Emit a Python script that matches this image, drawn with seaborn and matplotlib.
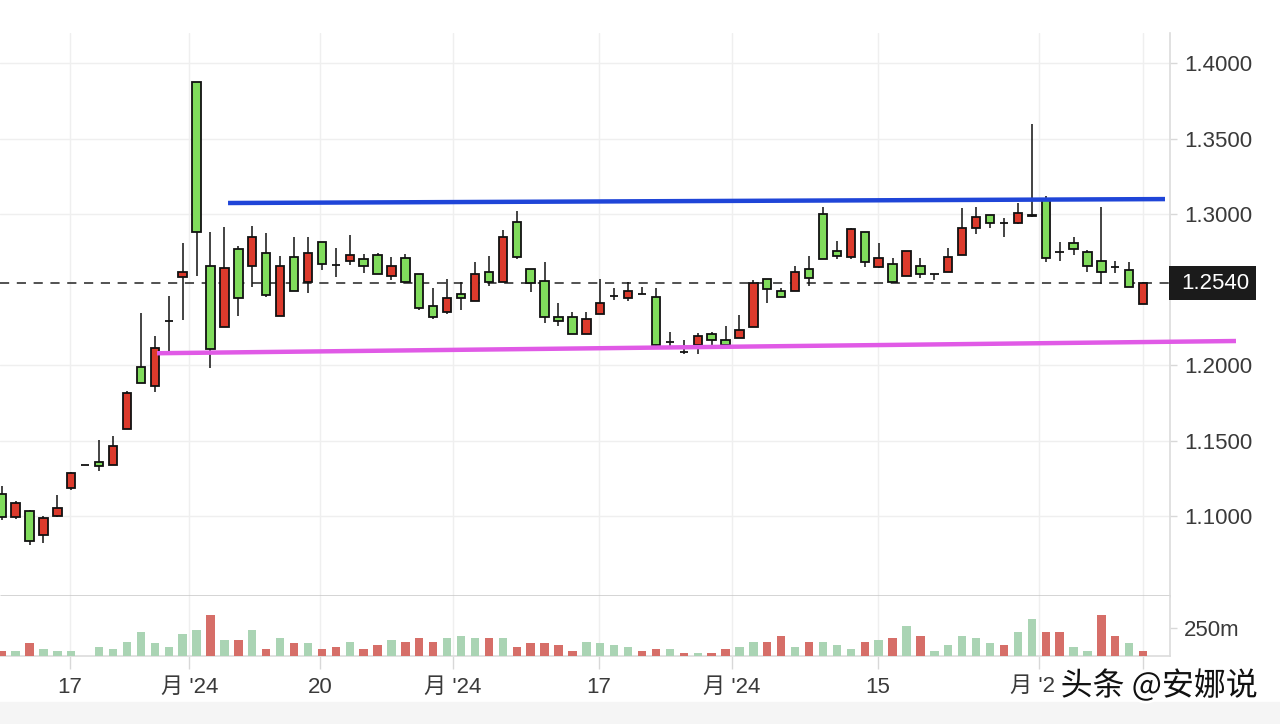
import numpy as np
import pandas as pd
import matplotlib
matplotlib.use("Agg")
import matplotlib.pyplot as plt
import seaborn as sns
from matplotlib import patheffects as pe
from matplotlib.patches import Rectangle
from matplotlib.transforms import blended_transform_factory

# ---------------- data ----------------
opens = [1.1149, 1.0995, 1.1035, 1.0872, 1.0998, 1.1185, 1.1338, 1.1360, 1.1338, 1.1575,
         1.1989, 1.1864, 1.2290, 1.2581, 1.3875, 1.2656, 1.2254, 1.2770, 1.2656, 1.2741,
         1.2327, 1.2718, 1.2552, 1.2817, 1.2662, 1.2691, 1.2702, 1.2728, 1.2589, 1.2706,
         1.2603, 1.2391, 1.2349, 1.2468, 1.2426, 1.2618, 1.2552, 1.2945, 1.2634, 1.2559,
         1.2318, 1.2318, 1.2203, 1.2338, 1.2459, 1.2442, 1.2468, 1.2453, 1.2150, 1.2088,
         1.2132, 1.2205, 1.2166, 1.2177, 1.2254, 1.2568, 1.2492, 1.2490, 1.2634, 1.2998,
         1.2757, 1.2713, 1.2883, 1.2651, 1.2667, 1.2591, 1.2656, 1.2603, 1.2618, 1.2728,
         1.2905, 1.2993, 1.2938, 1.2942, 1.2990, 1.3093, 1.2746, 1.2806, 1.2746, 1.2691,
         1.2651, 1.2629, 1.2404]
highs = [1.1201, 1.1097, 1.1040, 1.1002, 1.1142, 1.1291, 1.1338, 1.1504, 1.1528, 1.1828,
         1.2344, 1.2195, 1.2458, 1.2810, 1.3875, 1.2883, 1.2912, 1.2786, 1.2924, 1.2876,
         1.2723, 1.2848, 1.2848, 1.2817, 1.2773, 1.2861, 1.2735, 1.2744, 1.2717, 1.2735,
         1.2603, 1.2508, 1.2568, 1.2552, 1.2684, 1.2722, 1.2894, 1.3022, 1.2634, 1.2684,
         1.2409, 1.2353, 1.2353, 1.2570, 1.2508, 1.2552, 1.2519, 1.2508, 1.2221, 1.2166,
         1.2210, 1.2221, 1.2258, 1.2331, 1.2563, 1.2568, 1.2508, 1.2656, 1.2722, 1.3048,
         1.2821, 1.2909, 1.2883, 1.2810, 1.2706, 1.2757, 1.2706, 1.2603, 1.2773, 1.3038,
         1.3048, 1.2993, 1.2972, 1.3071, 1.3596, 1.3119, 1.2817, 1.2846, 1.2762, 1.3048,
         1.2691, 1.2680, 1.2552]
lows = [1.0972, 1.0983, 1.0806, 1.0818, 1.0995, 1.1173, 1.1338, 1.1296, 1.1336, 1.1573,
        1.1878, 1.1823, 1.2084, 1.2297, 1.2592, 1.1977, 1.2254, 1.2327, 1.2517, 1.2450,
        1.2327, 1.2491, 1.2474, 1.2628, 1.2585, 1.2662, 1.2611, 1.2603, 1.2563, 1.2552,
        1.2364, 1.2302, 1.2338, 1.2364, 1.2426, 1.2523, 1.2552, 1.2702, 1.2486, 1.2276,
        1.2261, 1.2203, 1.2203, 1.2338, 1.2430, 1.2426, 1.2468, 1.2128, 1.2121, 1.2073,
        1.2073, 1.2132, 1.2130, 1.2177, 1.2254, 1.2413, 1.2453, 1.2490, 1.2525, 1.2702,
        1.2702, 1.2702, 1.2651, 1.2640, 1.2548, 1.2591, 1.2574, 1.2563, 1.2618, 1.2728,
        1.2868, 1.2905, 1.2850, 1.2934, 1.2982, 1.2684, 1.2691, 1.2728, 1.2614, 1.2536,
        1.2607, 1.2515, 1.2404]
closes = [1.0995, 1.1085, 1.0834, 1.0988, 1.1052, 1.1286, 1.1338, 1.1334, 1.1464, 1.1816,
          1.1878, 1.2114, 1.2290, 1.2616, 1.2881, 1.2103, 1.2644, 1.2446, 1.2846, 1.2462,
          1.2656, 1.2491, 1.2741, 1.2668, 1.2662, 1.2728, 1.2656, 1.2603, 1.2656, 1.2552,
          1.2375, 1.2316, 1.2442, 1.2442, 1.2603, 1.2552, 1.2846, 1.2713, 1.2541, 1.2316,
          1.2291, 1.2203, 1.2305, 1.2409, 1.2459, 1.2492, 1.2468, 1.2130, 1.2150, 1.2088,
          1.2194, 1.2163, 1.2130, 1.2232, 1.2541, 1.2503, 1.2453, 1.2618, 1.2578, 1.2702,
          1.2724, 1.2898, 1.2680, 1.2706, 1.2548, 1.2757, 1.2603, 1.2603, 1.2717, 1.2905,
          1.2982, 1.2942, 1.2938, 1.3005, 1.2995, 1.2707, 1.2746, 1.2768, 1.2656, 1.2614,
          1.2651, 1.2515, 1.2540]
volumes = [45, 45, 114, 63, 45, 45, 0, 78, 63, 129,
           217, 114, 78, 199, 232, 370, 147, 147, 232, 63,
           166, 114, 114, 63, 78, 129, 63, 96, 147, 129,
           166, 129, 166, 181, 166, 166, 166, 78, 114, 114,
           96, 45, 129, 114, 96, 78, 45, 60, 60, 27,
           27, 27, 60, 78, 129, 129, 184, 78, 129, 129,
           96, 63, 129, 144, 162, 271, 184, 45, 96, 184,
           162, 114, 96, 217, 334, 217, 217, 78, 45, 370,
           184, 114, 45]
vol_dir = list("rgrggggggggggggrgrgrgrgrrgrrgrrrgggrgrrrrrggggrrgrgrrggrrgrgggrgrgrgggggrggrrggrrgrg")
vol_dir = ["up" if d == "r" else "down" for d in vol_dir][:len(volumes)]
tick_pos = [4.92, 13.49, 22.9, 32.42, 42.92, 52.45, 62.95, 74.52, 81.99]
tick_labels = ["17", "月 '24", "20", "月 '24", "17", "月 '24", "15", "", ""]
partial_label = "月 '2"      # label partly hidden under the watermark in the source
watermark = "头条 @安娜说"
price_ticks = [1.10, 1.15, 1.20, 1.30, 1.35, 1.40]
last_price = 1.2540
resist_x, resist_y = [16.26, 83.57], [1.3073, 1.3099]
support_x, support_y = [11.16, 88.67], [1.2078, 1.2159]

# ---------------- style ----------------
sns.set_style("white")
plt.rcParams["font.family"] = ["Liberation Sans", "Noto Sans CJK SC", "DejaVu Sans"]

RED, GREEN = "#dc3a2c", "#80dc5c"
VRED, VGREEN = "#d66e68", "#aad4b4"
GRID = "#efefef"
TXT = "#3a3a3a"

fig = plt.figure(figsize=(12.8, 7.24), dpi=100)
fig.patch.set_facecolor("white")
fig.patches.append(Rectangle((0, 0), 1, 22 / 724, transform=fig.transFigure,
                             color="#f5f5f5", zorder=0))

axp = fig.add_axes([0, 128 / 724, 1170 / 1280, 563 / 724])
axv = fig.add_axes([0, 68 / 724, 1170 / 1280, 60 / 724], sharex=axp)

n = len(opens)
x = np.arange(n)
o = np.array(opens); c = np.array(closes); h = np.array(highs); l = np.array(lows)

# volume via seaborn
df = pd.DataFrame({"idx": x, "vol": volumes, "dir": vol_dir})
sns.barplot(data=df, x="idx", y="vol", hue="dir", palette={"up": VRED, "down": VGREEN},
            native_scale=True, width=0.6, dodge=False, errorbar=None, legend=False,
            saturation=1, linewidth=0, ax=axv, orient="x", zorder=3)

# candles
colors = np.where(c > o, RED, np.where(c < o, GREEN, "#111111"))
axp.vlines(x, l, h, color="#111111", lw=1.1, zorder=3)
axp.bar(x, np.abs(c - o), bottom=np.minimum(o, c), width=0.6, color=colors,
        edgecolor="#111111", linewidth=1.3, zorder=4)

# last price dashed line
axp.axhline(last_price, color="#222222", lw=1.1, ls=(0, (6, 5)), zorder=2)

# trend lines
axp.plot(resist_x, resist_y, color="#1f45d8", lw=3.2, zorder=6, solid_capstyle="butt")
axp.plot(support_x, support_y, color="#e05ae6", lw=3.2, zorder=6, solid_capstyle="butt",
         clip_on=False)

# axes limits & ticks
axp.set_xlim(-0.122, 83.93)
axp.set_ylim(1.04702, 1.4199)
axv.set_ylim(0, 541.5)

axp.yaxis.tick_right()
axp.set_yticks(price_ticks)
axp.set_yticklabels([f"{t:.4f}" for t in price_ticks])
axp.tick_params(axis="y", which="both", right=True, length=5, width=1, color="#d8d8d8",
                labelsize=16, labelcolor=TXT, pad=5)
axp.tick_params(axis="x", bottom=False, labelbottom=False)
axp.set_xticks(tick_pos)
axp.grid(True, color=GRID, lw=1, zorder=0)
axp.set_axisbelow(True)

axv.yaxis.tick_right()
axv.set_yticks([250])
axv.set_yticklabels(["250m"])
axv.tick_params(axis="y", right=True, length=5, width=1, color="#d8d8d8",
                labelsize=16, labelcolor=TXT, pad=5)
axv.set_xticks(tick_pos)
axv.set_xticklabels(tick_labels)
axv.tick_params(axis="x", bottom=True, length=9, width=1, color="#d8d8d8",
                labelsize=16, labelcolor=TXT, pad=6)
axv.grid(True, axis="x", color=GRID, lw=1, zorder=0)
axv.set_axisbelow(True)
axv.set_xlabel(""); axv.set_ylabel("")
axp.set_xlim(-0.122, 83.93)

for ax in (axp, axv):
    ax.set_facecolor("white")
    ax.spines["top"].set_visible(False)
    ax.spines["left"].set_visible(False)
    ax.spines["right"].set_color("#dcdcdc")
    ax.spines["right"].set_linewidth(1.2)
axp.spines["bottom"].set_color("#c8c8c8")
axp.spines["bottom"].set_linewidth(1.8)
axp.spines["bottom"].set_capstyle("butt")
axv.spines["bottom"].set_color("#dcdcdc")
axv.spines["bottom"].set_linewidth(1.2)

# last price label box
tr = blended_transform_factory(axp.transAxes, axp.transData)
axp.add_patch(Rectangle((0.9991, last_price - 0.01126), 0.0744, 0.02252, transform=tr,
                        facecolor="#1b1b1b", edgecolor="none", clip_on=False, zorder=10))
axp.text(1.0094, last_price, f"{last_price:.4f}", transform=tr, ha="left", va="center",
         color="white", fontsize=16, zorder=11, clip_on=False)

# partially hidden tick label (same baseline as the other tick labels)
lab_y = axv.get_xticklabels()[0].get_position()[1]
fig.text(1055 / 1280, 1 - 686 / 724, partial_label, ha="right", va="center",
         fontsize=16, color=TXT)

# watermark
fig.text(1258 / 1280, 1 - 686 / 724, watermark, ha="right", va="center",
         fontsize=23, color="#111111", family=["Noto Sans CJK SC", "DejaVu Sans"],
         path_effects=[pe.withStroke(linewidth=4, foreground="white")], zorder=20)

fig.savefig("out.png", dpi=100)
